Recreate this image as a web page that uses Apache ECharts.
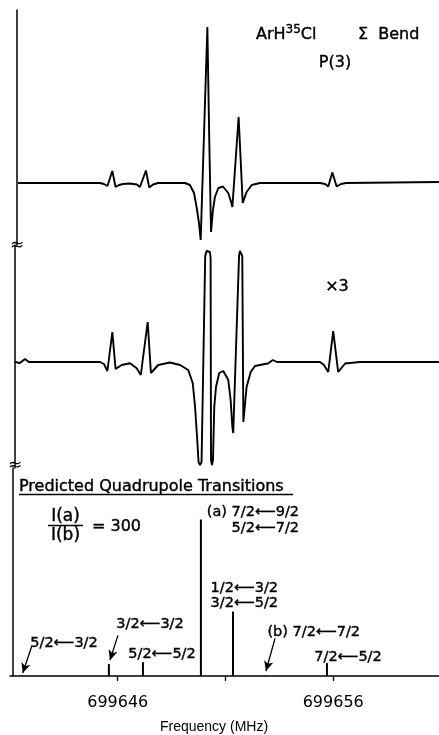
<!DOCTYPE html>
<html>
<head>
<meta charset="utf-8">
<script src="https://cdn.jsdelivr.net/npm/echarts@6/dist/echarts.min.js"></script>
<style>html,body{margin:0;padding:0;background:#fff}#c{width:439px;height:735px}</style>
</head>
<body>
<div id="c"></div>
<script>
// Frequency range of the shared axis (MHz)
const freqMin = 699641;
const freqMax = 699660.91;

// Observed spectrum, upper trace: [frequency MHz, signal (arb.)]
const topTrace = [
  [699641.37, 0], [699645.18, 0], [699645.36, -1], [699645.52, -3], [699645.75, 12],
  [699645.90, -4], [699646.06, -2], [699646.24, -1], [699646.57, -0.5], [699646.89, -1.5],
  [699647.03, -4], [699647.31, 12.5], [699647.46, -4.5], [699647.64, -1.5], [699647.87, 0],
  [699649.12, 0], [699649.35, -2], [699649.54, -10], [699649.66, -24], [699649.77, -40],
  [699649.85, -57], [699650.16, 156], [699650.25, 40], [699650.33, -49], [699650.42, -27],
  [699650.51, -14], [699650.67, -5], [699650.88, -3.5], [699651.13, -10], [699651.26, -19],
  [699651.32, -24], [699651.61, 66], [699651.80, -20], [699651.98, -9], [699652.22, -2],
  [699652.60, 0], [699655.39, 0], [699655.62, -1], [699655.77, -3.5], [699655.96, 10.5],
  [699656.16, -3.5], [699656.36, -1], [699656.59, 0], [699660.91, 1]
];

// Observed spectrum, x3 trace (off-scale peaks clipped by the recorder)
const x3Trace = [
  [699641.23, 0], [699641.46, -1], [699641.70, 3], [699641.88, 0], [699645.18, 0],
  [699645.36, -2], [699645.52, -9], [699645.75, 30], [699645.90, -7], [699646.18, -3],
  [699646.57, -1.3], [699646.88, -6.3], [699647.07, -13], [699647.39, 40], [699647.54, -11],
  [699647.88, -3], [699648.42, -0.5], [699648.89, -3], [699649.27, -8], [699649.48, -21],
  [699649.59, -45], [699649.69, -78], [699649.75, -100], [699649.82, -103], [699649.89, -100],
  [699650.06, 106], [699650.12, 111], [699650.20, 112], [699650.28, 110], [699650.31, 104],
  [699650.33, -98], [699650.37, -103], [699650.42, -98], [699650.48, -45], [699650.56, -25],
  [699650.71, -11], [699650.90, -9], [699651.13, -18], [699651.24, -38], [699651.32, -65],
  [699651.36, -71], [699651.63, 106], [699651.67, 111], [699651.73, 112], [699651.78, 106],
  [699651.83, -60], [699651.98, -25], [699652.17, -10], [699652.37, -4], [699652.60, -3],
  [699652.97, -1.5], [699653.20, 2], [699653.39, 0], [699655.39, 0], [699655.57, -3],
  [699655.77, -10], [699656.00, 31], [699656.23, -10], [699656.55, -1.5], [699657.24, 0],
  [699660.91, 0]
];

// Predicted quadrupole transitions (stick spectrum)
const stickFreq      = [699641.56, 699645.59, 699647.17, 699649.86, 699651.35, 699652.88, 699655.71];
const stickIntensity = [0.5, 12, 14, 158, 65, 0.5, 13];

// Axis ticks and labels
const tickValues  = [699646, 699651, 699656];
const labelValues = [699646, 699656];

// Pointer arrows for weak transitions, in data space of the stick panel
const arrowLines = [
  [[699642.01, 30], [699641.59, 3]],
  [[699646.01, 41], [699645.64, 16]],
  [[699653.30, 38], [699652.88, 5]]
];

const FONT = 'DejaVu Sans';
const ARR = '\u27F5';

const chart = echarts.init(document.getElementById('c'), null, {renderer: 'canvas'});

const gridBase = {left: 10, right: 0};
const hiddenX = (i) => ({type: 'value', gridIndex: i, min: freqMin, max: freqMax, show: false});
const yBase = {type: 'value', splitLine: {show: false}, axisTick: {show: false}, axisLabel: {show: false},
  axisLine: {show: true, lineStyle: {color: '#000', width: 1.5}}};

const txt = (x, y, text, size, align) => ({
  type: 'text', x: x, y: y, silent: true,
  style: {text: text, font: size + 'px ' + FONT, fill: '#000', stroke: '#000', lineWidth: 0.4,
    textAlign: align || 'center', textVerticalAlign: 'middle'}
});

chart.setOption({
  animation: false,
  backgroundColor: '#fff',
  grid: [
    Object.assign({top: 10, height: 235}, gridBase),
    Object.assign({top: 245, height: 223}, gridBase),
    Object.assign({top: 468, height: 210}, gridBase)
  ],
  xAxis: [
    hiddenX(0), hiddenX(1),
    {
      type: 'value', gridIndex: 2, min: freqMin, max: freqMax,
      splitLine: {show: false},
      axisLine: {show: true, onZero: false, lineStyle: {color: '#000', width: 1.5}},
      axisTick: {show: true, customValues: tickValues, length: 5, lineStyle: {color: '#000', width: 1.3}},
      axisLabel: {show: true, customValues: labelValues, color: '#000', fontFamily: FONT, fontSize: 16, margin: 19,
        formatter: (v) => String(Math.round(v))},
      name: 'Frequency (MHz)', nameLocation: 'middle', nameGap: 44,
      nameTextStyle: {color: '#000', fontFamily: 'Liberation Sans', fontSize: 14, padding: [0, 21, 0, 0]}
    }
  ],
  yAxis: [
    Object.assign({gridIndex: 0, min: -62, max: 173, offset: -7, name: '\u2248', nameLocation: 'start', nameGap: -8,
      nameTextStyle: {color: '#000', fontSize: 17, fontFamily: FONT}}, yBase),
    Object.assign({gridIndex: 1, min: -106, max: 117, offset: -5, name: '\u2248', nameLocation: 'start', nameGap: -11,
      nameTextStyle: {color: '#000', fontSize: 17, fontFamily: FONT}}, yBase),
    Object.assign({gridIndex: 2, min: 0, max: 210, offset: -3}, yBase)
  ],
  series: [
    {type: 'line', xAxisIndex: 0, yAxisIndex: 0, data: topTrace, showSymbol: false, symbol: 'none',
      lineStyle: {color: '#000', width: 1.9}, clip: true},
    {type: 'line', xAxisIndex: 1, yAxisIndex: 1, data: x3Trace, showSymbol: false, symbol: 'none',
      lineStyle: {color: '#000', width: 1.9}, clip: true},
    {type: 'bar', xAxisIndex: 2, yAxisIndex: 2, barWidth: 2,
      data: stickFreq.map((f, i) => [f, stickIntensity[i]]),
      itemStyle: {color: '#000'},
      markLine: {
        silent: true, symbol: ['none', 'arrow'], symbolSize: [7, 10],
        label: {show: false},
        lineStyle: {color: '#000', width: 1.3, type: 'solid'},
        data: arrowLines.map(a => [{coord: a[0]}, {coord: a[1]}])
      }
    }
  ],
  graphic: [
    {
      type: 'text', x: 256, y: 35, silent: true,
      style: {
        text: '{n|ArH}{s|35}{n|Cl}', fill: '#000', stroke: '#000', lineWidth: 0.4,
        textAlign: 'left', textVerticalAlign: 'middle',
        rich: {
          n: {fontFamily: FONT, fontSize: 16, lineHeight: 22, verticalAlign: 'middle', fill: '#000'},
          s: {fontFamily: FONT, fontSize: 12, lineHeight: 12, verticalAlign: 'top', fill: '#000'}
        }
      }
    },
    txt(358, 35, '\u03A3  Bend', 16, 'left'),
    txt(335, 63, 'P(3)', 16, 'center'),
    txt(337, 287, '\u00D73', 16, 'center'),
    txt(19, 487, 'Predicted Quadrupole Transitions', 16, 'left'),
    {type: 'line', silent: true, shape: {x1: 19, y1: 494.5, x2: 293, y2: 494.5}, style: {stroke: '#000', lineWidth: 1.3}},
    txt(65.5, 517, 'I(a)', 17, 'center'),
    {type: 'line', silent: true, shape: {x1: 48, y1: 525.5, x2: 83, y2: 525.5}, style: {stroke: '#000', lineWidth: 1.3}},
    txt(65.5, 536, 'I(b)', 17, 'center'),
    txt(141, 527, '= 300', 16, 'right'),
    txt(299, 512, '(a) 7/2' + ARR + '9/2', 14.5, 'right'),
    txt(299, 528, '5/2' + ARR + '7/2', 14.5, 'right'),
    txt(278, 588, '1/2' + ARR + '3/2', 14.5, 'right'),
    txt(278, 603, '3/2' + ARR + '5/2', 14.5, 'right'),
    txt(360, 632, '(b) 7/2' + ARR + '7/2', 14.5, 'right'),
    txt(150, 624, '3/2' + ARR + '3/2', 14.5, 'center'),
    txt(64, 643, '5/2' + ARR + '3/2', 14.5, 'center'),
    txt(162, 654, '5/2' + ARR + '5/2', 14.5, 'center'),
    txt(348, 657, '7/2' + ARR + '5/2', 14.5, 'center')
  ]
});
</script>
</body>
</html>
